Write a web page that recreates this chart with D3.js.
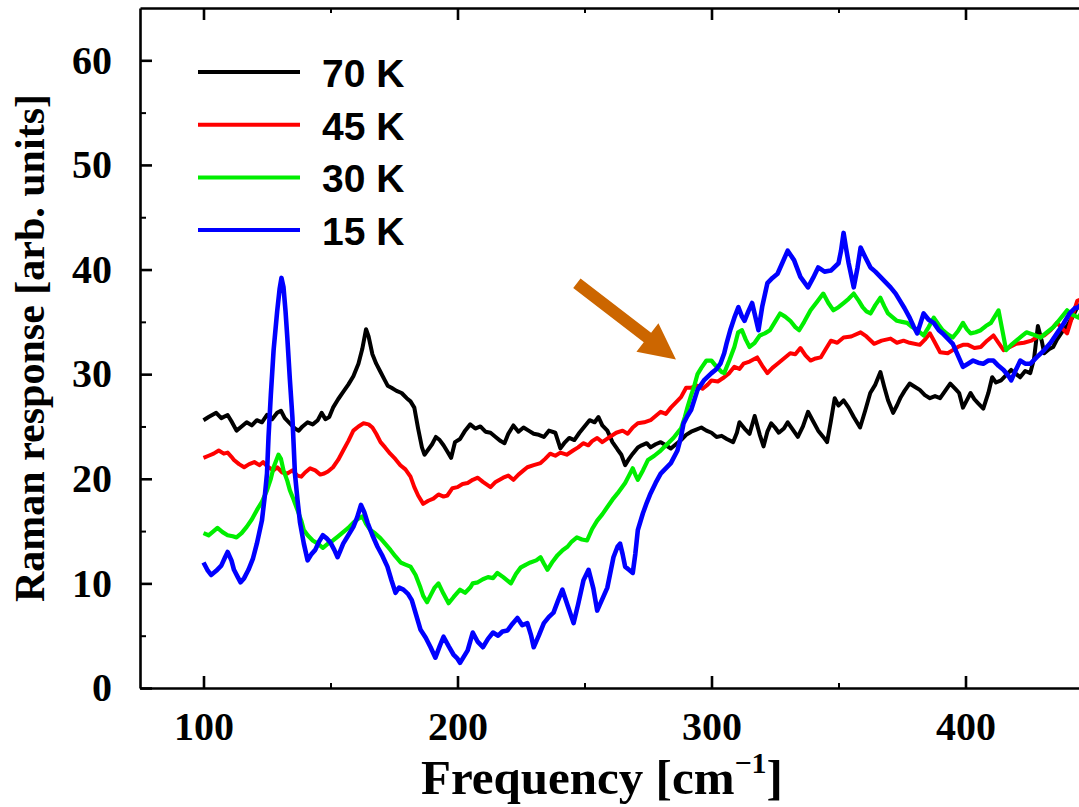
<!DOCTYPE html>
<html>
<head>
<meta charset="utf-8">
<script src="https://cdn.jsdelivr.net/npm/d3@7"></script>
<style>
  html, body { margin: 0; padding: 0; background: #fff; }
  svg { display: block; }
</style>
</head>
<body>
<svg id="chart" width="1079" height="807"></svg>
<script>
// ---- Raman spectra at four temperatures ----
const temperatures = ["70 K", "45 K", "30 K", "15 K"];
const lineColors = ["#000000", "#ff0000", "#00ee00", "#0000ff"];

const freq70 = [100,102,105,107,109.5,111,113,115,117,119,121,123,125,127,129,130.5,132,134,136,137.5,139,141,143,145,146.5,148,149.5,151,153,155,157,159,161,162.5,164,165,166.5,168,169.5,171,172.5,174,176,178,180,181.5,183,184.5,186,187,188.5,190,191.5,193,194.5,196,197.5,199,201,203,205,207,209,211,213,215,217,218.5,220,222,224,226,228,230,232,234,236,238.5,240.5,242,244,246,248,250,252,254,255.5,257,259,261,263,264.5,266,267.5,269,271,272.5,274.5,276,278,280,282,284,286,288,290,292,294,296,298,300,302,304,306,308.5,310,311,313,315,317,319,320.5,322,323.5,325,326.5,328.5,330,332,334,336,338,340,342,344,345.5,347,348.5,350,352,354,356,358.5,360.5,362.5,364.5,366.5,368,369.5,371.5,373,374.5,376,378,380,382,384,386,388,390,392,394,396,397.5,399,400.5,402,403.5,405,407,409,410.5,412,414,416,418,420,421.5,423.5,425.5,427,428.5,430,431,433,434.5,436,438.5,440,442,444,446];
const resp70 = [25.6,25.9,26.3,25.8,26.1,25.5,24.6,25.0,25.4,25.1,25.6,25.4,26.1,25.7,26.3,26.5,25.8,25.3,24.8,24.6,25.0,25.4,25.2,25.6,26.3,25.7,25.9,26.8,27.6,28.3,29.0,29.8,31.0,32.4,34.3,33.6,31.9,31.0,30.3,29.6,28.9,28.7,28.4,28.2,27.7,27.4,26.8,24.8,23.0,22.3,22.8,23.3,24.0,23.7,23.2,22.6,22.0,23.5,23.8,24.6,25.2,24.8,25.0,24.5,24.4,24.0,23.6,23.4,24.3,25.1,24.5,24.9,24.6,24.3,24.2,24.0,24.6,24.4,22.9,23.4,23.9,23.7,24.4,25.0,25.6,25.4,25.9,25.1,24.6,23.5,22.8,22.3,21.3,21.9,22.4,23.0,23.2,23.4,23.0,23.3,23.5,23.2,22.9,23.3,23.7,24.2,24.5,24.7,24.9,24.6,24.4,24.0,24.1,23.8,23.5,24.4,25.4,24.8,24.3,26.0,24.2,23.1,24.5,25.3,24.9,24.4,24.8,25.4,24.7,24.0,25.0,26.4,25.5,24.6,24.0,23.5,25.5,27.7,27.0,27.5,26.8,25.9,24.9,26.5,28.2,29.0,30.2,28.8,27.5,26.3,27.0,27.8,28.4,29.1,28.8,28.5,28.0,27.7,27.9,27.7,28.4,29.1,28.6,28.2,26.8,27.5,28.2,27.6,27.2,26.7,28.2,29.7,29.2,29.4,29.9,30.4,30.0,29.7,30.3,30.1,31.5,34.6,33.2,32.0,32.4,32.6,33.3,34.2,34.6,35.4,36.4,36.8];

const freq45 = [100,102,104,106,108,109.5,111,112,114,116,118,120,122,123.5,125,127.5,129,131,133,135,137,138.5,140,142,144,146,147.5,149,151,153,155,157,159,161,163,165,166.5,168,169.7,171.5,173.5,175.5,177.5,179.5,181.5,183,184.5,186.5,188.5,190.5,192.5,194.5,196,198,200,202,204,206,208,210,213,215,218,220,222,224,226,227.5,230,232.7,234.5,236.5,238.5,240.5,243,245.5,247.5,249.5,251.5,253,255,257,260,262.5,265,267,269,271,273.5,276,278,280,282,284,286,288,290,292,294.5,296.5,298.5,300,302.5,305,307,309,311,312.6,315,318,320,322,324,326,328.5,331,333,335,337,339,341,343,345,347,349.5,352,355,358.7,361,364,367,370.5,373,375.6,378,382,384,386,388,390,393,395,397,399,401,403.5,406,408.5,411,413,415,417.5,420,423,426,428.5,431,433.5,436,438,440,442,444,446];
const resp45 = [22.0,22.2,22.4,22.7,22.4,22.5,22.1,21.8,21.4,21.1,21.4,21.6,21.3,21.6,21.2,20.8,21.1,20.6,20.5,20.8,20.3,20.2,20.6,21.0,20.8,20.4,20.5,20.7,21.1,21.8,22.7,23.6,24.6,25.0,25.3,25.2,24.9,24.3,23.5,23.0,22.4,21.9,21.3,20.9,20.2,19.2,18.4,17.6,17.9,18.1,18.5,18.3,18.4,19.1,19.2,19.5,19.6,19.9,20.1,19.7,19.2,19.7,20.1,20.3,19.9,20.4,20.8,21.1,21.3,21.5,21.9,22.4,22.2,22.5,22.3,22.7,23.0,23.4,23.2,23.6,23.9,23.5,24.0,24.4,24.6,24.3,24.9,25.3,25.4,25.6,26.0,26.4,26.2,26.8,27.3,27.8,28.7,28.7,28.9,28.6,29.0,29.4,29.3,29.7,30.1,30.7,30.5,31.0,31.2,31.6,30.8,30.1,30.6,31.0,31.5,32.0,31.9,32.5,31.8,31.3,31.5,31.6,32.4,33.2,33.0,33.5,33.6,34.0,33.6,32.9,33.2,33.4,33.0,33.2,33.0,32.8,33.3,33.9,33.0,32.1,32.0,32.3,32.6,32.8,32.8,32.5,32.6,33.2,33.7,33.0,32.3,32.6,32.9,33.0,33.2,33.6,33.7,34.2,34.9,34.4,33.9,35.5,37.0,37.2];

const freq30 = [100,102,104,105.5,107.5,109.5,111.5,113,115,117,119,121,123,125,126.5,127.6,129.5,130.5,131.5,133,134,135.5,137,138.5,139.5,141,143,145,147,149,151,153,155,157,159,161,162.6,164,165.7,167.5,169.7,171.5,173.6,175.5,177.6,179.5,181.5,183.5,185.4,186.5,188,189.5,191,192.5,194.5,196.5,198.5,201,203,205,206,208,210,212,214,215.7,218,221,223,224.8,227,228.7,231,232.7,234,235.4,237.5,239.4,241.5,243.3,245,247,249,251,253,255,257,259,261,263,264.5,266,267.5,269,270,271,273,275,277.5,280,282.5,285,287,288,289.5,290.5,292,293,294.5,296,298,300,302,304,305,307,309,310.5,312,313.5,315,317,319,321,323,325,327,329,331,333,334.5,336.5,339,341.5,344,346,348,350,352,354,356,358,359.5,361,362.6,364.5,366.5,368,369.5,371,373,375,377,379,381,383.5,385.5,387.5,389.5,391,393,395,397,399,400.5,402,404,406,408,410,411.5,413,414.5,416,418,420,422,424,426.5,429.5,432,434.6,437,440,442,444.5,446];
const resp30 = [14.8,14.6,15.0,15.3,14.9,14.6,14.5,14.4,14.8,15.4,16.1,17.0,17.8,18.9,20.0,21.1,22.3,21.9,20.8,19.8,18.9,18.0,17.0,16.0,15.1,14.6,14.1,13.8,13.4,13.8,14.1,14.5,14.9,15.3,15.8,16.2,16.4,15.7,15.1,14.8,14.3,13.8,13.2,12.6,12.0,11.8,11.6,10.8,9.6,8.8,8.2,8.9,9.6,10.0,9.0,8.1,8.7,9.4,9.1,9.6,10.0,10.1,10.4,10.6,10.5,11.0,10.6,10.0,10.9,11.5,11.8,12.0,12.2,12.5,11.9,11.3,12.1,12.7,13.2,13.5,14.0,14.4,14.2,14.1,15.2,16.0,16.6,17.3,18.0,18.6,19.1,19.6,20.3,21.0,20.4,19.9,20.8,21.8,22.2,22.7,23.3,23.9,24.5,24.8,25.9,26.8,28.0,28.7,30.0,30.6,31.3,31.3,30.7,30.2,30.1,31.3,32.6,34.0,34.2,33.3,32.6,33.0,33.7,33.9,34.2,35.0,35.8,35.5,35.1,34.5,34.2,35.0,36.1,36.9,37.7,36.8,36.1,36.4,36.8,37.2,37.7,37.0,36.4,36.0,35.8,36.6,37.3,36.5,35.8,35.5,35.1,35.0,34.9,34.5,34.2,33.7,34.5,35.4,34.7,34.2,33.8,33.5,34.1,34.9,34.3,33.9,34.0,34.2,34.6,34.9,35.5,36.1,34.2,32.3,32.8,33.2,33.6,34.0,33.8,33.5,34.0,34.5,35.2,36.1,35.7,35.4,36.0];

const freq15 = [100,101.5,103,105,107,108.5,109.5,111,112,113.5,114.6,116,117.7,119.5,121,123,124.2,125,125.6,126.5,127.6,129,130,130.7,131.5,132.3,133,134,135,136,137,138,139.5,141,142.5,144,145.5,147,148.5,150,151.5,152.8,154,155,157,159,160.5,162,163.3,164.6,166.5,168.5,170.5,172.4,174,175.6,177,178.7,180.5,182,183.7,185.4,187.5,189.4,191.3,193,194.5,196.5,198.4,200,201,202.5,204,206,208,210,212,214,216,217.7,219.7,221.5,223.6,225.5,227.5,229,230,232,234,236,237.8,239.5,241.3,243.5,245.7,247.5,249.6,251.6,253.5,255,257,259,261.4,263,264,265,266,267.5,269,270,271,273,274.5,276,278,280,282,284,286.6,288,289,290.5,292,294.5,297,300,302,303.5,305,306,307.5,309,310.6,312,313,314.5,316,318.5,320,322,324,326,328,330,332.5,335,338,340,342,344.5,347,350,351,352,353,354,356,357.5,358.7,360.5,362.6,364.5,366.5,368.5,370.5,372.5,374,376,378,379.5,381,383.5,385.5,387.5,389.5,391,393,395,397,399,401,403,405,407,409,411,413,415,417,418,420,421.6,423.5,425.6,428,431,433.5,436,438.5,441,443,444.5,446];
const resp15 = [12.0,11.3,10.8,11.2,11.7,12.5,13.0,12.2,11.3,10.6,10.1,10.5,11.3,12.4,13.8,16.0,18.5,20.5,24.0,28.0,32.3,36.0,38.2,39.2,38.3,36.0,33.5,29.5,25.9,20.5,18.0,15.8,13.8,12.2,12.8,13.2,14.0,14.6,14.3,13.9,13.2,12.5,13.2,13.8,14.6,15.4,16.3,17.5,16.8,15.8,14.6,13.5,12.6,11.6,10.3,9.1,9.6,9.4,9.0,8.4,7.0,5.6,4.8,3.9,2.9,4.0,4.9,4.0,3.2,2.8,2.4,3.0,3.6,5.3,4.4,3.9,4.7,5.3,5.0,5.4,5.5,6.1,6.7,6.0,6.2,5.0,3.9,5.0,6.2,6.8,7.2,8.3,9.4,7.8,6.2,8.0,10.3,11.3,9.5,7.4,8.5,9.6,12.5,13.5,13.8,12.8,11.6,11.3,11.0,12.8,15.1,16.7,17.7,18.6,19.6,20.5,21.0,21.5,22.7,24.0,25.3,26.0,26.6,28.5,29.4,30.1,30.5,31.0,32.0,33.0,34.3,35.4,36.4,35.5,35.1,36.0,36.8,34.2,36.5,38.7,39.2,39.6,40.7,41.8,40.9,39.3,38.3,39.2,40.2,39.8,39.9,40.6,41.8,43.5,42.0,40.6,38.3,40.2,42.1,41.2,40.2,39.8,39.3,38.8,38.3,37.7,37.1,36.3,35.4,34.6,33.9,35.8,35.2,34.9,34.2,33.9,33.4,32.9,31.8,30.7,31.0,31.3,31.1,31.0,31.3,31.3,30.8,30.4,29.8,29.4,30.5,31.3,31.0,31.0,31.6,32.3,33.0,33.9,34.8,35.8,36.3,36.4,36.8];

// axis ticks
const xMajorTicks = [100, 200, 300, 400];
const xMinorTicks = [150, 250, 350];
const yMajorTicks = [0, 10, 20, 30, 40, 50, 60];
const yMinorTicks = [5, 15, 25, 35, 45, 55];

// annotation arrow (tail, head) in data units
const arrowFrom = [247, 38.7];
const arrowTo = [286, 31.4];

const series = [
  { label: temperatures[0], color: lineColors[0], freq: freq70, resp: resp70, width: 4 },
  { label: temperatures[1], color: lineColors[1], freq: freq45, resp: resp45, width: 4 },
  { label: temperatures[2], color: lineColors[2], freq: freq30, resp: resp30, width: 4.2 },
  { label: temperatures[3], color: lineColors[3], freq: freq15, resp: resp15, width: 4.6 }
];

// ---- layout ----
const svg = d3.select("#chart");
const plotLeft = 140, plotTop = 8, plotBottom = 688;
const x = d3.scaleLinear().domain([75, 450]).range([plotLeft, plotLeft + 375 * 2.54]);
const y = d3.scaleLinear().domain([0, 65]).range([plotBottom, plotTop]);

const serif = "'Liberation Serif', 'Times New Roman', serif";
const sans = "'Liberation Sans', Arial, Helvetica, sans-serif";

// ---- curves ----
const line = d3.line()
  .defined(d => d[1] != null && !isNaN(d[1]))
  .x(d => x(d[0])).y(d => y(d[1]));
const plot = svg.append("g");
series.forEach(s => {
  const n = Math.min(s.freq.length, s.resp.length);
  const pts = s.freq.slice(0, n).map((f, i) => [f, s.resp[i]]);
  plot.append("path")
    .datum(pts)
    .attr("d", line)
    .attr("fill", "none")
    .attr("stroke", s.color)
    .attr("stroke-width", s.width)
    .attr("stroke-linejoin", "round");
});

// ---- axes ----
function styleAxis(g, major) {
  g.select(".domain").attr("stroke", "#000").attr("stroke-width", 2.6);
  g.selectAll(".tick line").attr("stroke", "#000").attr("stroke-width", major ? 2.6 : 2);
  g.selectAll(".tick text")
    .attr("fill", "#000")
    .style("font-family", serif)
    .style("font-weight", "bold")
    .style("font-size", "40px");
}

// bottom
svg.append("g").attr("transform", `translate(0,${plotBottom})`)
  .call(d3.axisBottom(x).tickValues(xMajorTicks).tickSize(-12).tickSizeOuter(0).tickPadding(24))
  .call(g => styleAxis(g, true));
svg.append("g").attr("transform", `translate(0,${plotBottom})`)
  .call(d3.axisBottom(x).tickValues(xMinorTicks).tickSize(-5).tickSizeOuter(0).tickFormat(""))
  .call(g => { g.select(".domain").remove(); styleAxis(g, false); });

// top
svg.append("g").attr("transform", `translate(0,${plotTop})`)
  .call(d3.axisTop(x).tickValues(xMajorTicks).tickSize(-12).tickSizeOuter(0).tickFormat(""))
  .call(g => styleAxis(g, true));
svg.append("g").attr("transform", `translate(0,${plotTop})`)
  .call(d3.axisTop(x).tickValues(xMinorTicks).tickSize(-5).tickSizeOuter(0).tickFormat(""))
  .call(g => { g.select(".domain").remove(); styleAxis(g, false); });

// left
svg.append("g").attr("transform", `translate(${plotLeft},0)`)
  .call(d3.axisLeft(y).tickValues(yMajorTicks).tickSize(-12).tickSizeOuter(0).tickPadding(28))
  .call(g => styleAxis(g, true));
svg.append("g").attr("transform", `translate(${plotLeft},0)`)
  .call(d3.axisLeft(y).tickValues(yMinorTicks).tickSize(-6).tickSizeOuter(0).tickFormat(""))
  .call(g => { g.select(".domain").remove(); styleAxis(g, false); });

// ---- axis titles ----
const xTitle = svg.append("text")
  .attr("x", 602).attr("y", 794)
  .attr("text-anchor", "middle")
  .style("font-family", serif).style("font-weight", "bold").style("font-size", "49px")
  .attr("fill", "#000");
xTitle.append("tspan").text("Frequency [cm");
xTitle.append("tspan").attr("dy", -21).style("font-size", "30px").text("\u22121");
xTitle.append("tspan").attr("dy", 21).text("]");

svg.append("text")
  .attr("transform", "translate(44,348) rotate(-90)")
  .attr("text-anchor", "middle")
  .style("font-family", serif).style("font-weight", "bold").style("font-size", "42px")
  .attr("fill", "#000")
  .text("Raman response [arb. units]");

// ---- legend ----
const legend = svg.append("g");
series.forEach((s, i) => {
  const ly = 72 + i * 52.7;
  legend.append("line")
    .attr("x1", 198).attr("x2", 300).attr("y1", ly).attr("y2", ly)
    .attr("stroke", s.color).attr("stroke-width", 4);
  legend.append("text")
    .attr("x", 322).attr("y", ly + 15)
    .style("font-family", sans).style("font-weight", "bold").style("font-size", "39px")
    .attr("fill", "#000")
    .text(s.label);
});

// ---- annotation arrow ----
(function drawArrow() {
  const x0 = x(arrowFrom[0]), y0 = y(arrowFrom[1]);
  const x1 = x(arrowTo[0]), y1 = y(arrowTo[1]);
  const dx = x1 - x0, dy = y1 - y0, len = Math.hypot(dx, dy);
  const ux = dx / len, uy = dy / len, px = -uy, py = ux;
  const shaftHalf = 6, headLen = 36, headHalf = 18;
  const bx = x1 - ux * headLen, by = y1 - uy * headLen;
  const pts = [
    [x0 + px * shaftHalf, y0 + py * shaftHalf],
    [bx + px * shaftHalf, by + py * shaftHalf],
    [bx + px * headHalf, by + py * headHalf],
    [x1, y1],
    [bx - px * headHalf, by - py * headHalf],
    [bx - px * shaftHalf, by - py * shaftHalf],
    [x0 - px * shaftHalf, y0 - py * shaftHalf]
  ];
  svg.append("path")
    .attr("d", d3.line()(pts) + "Z")
    .attr("fill", "#cc6600");
})();
</script>
</body>
</html>
